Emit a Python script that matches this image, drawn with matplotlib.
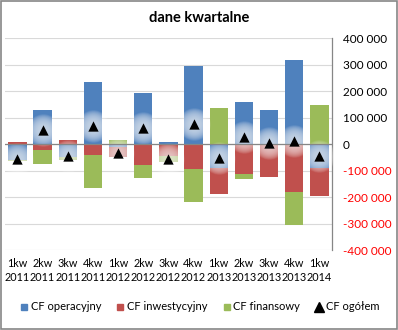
import matplotlib
matplotlib.use("Agg")
import matplotlib.pyplot as plt
from matplotlib.lines import Line2D
from matplotlib.ticker import FuncFormatter
import numpy as np

categories = ["1kw\n2011", "2kw\n2011", "3kw\n2011", "4kw\n2011", "1kw\n2012", "2kw\n2012",
              "3kw\n2012", "4kw\n2012", "1kw\n2013", "2kw\n2013", "3kw\n2013", "4kw\n2013", "1kw\n2014"]
cf_oper = [-60000, 130000, -48000, 233000, -12000, 191000, 9000, 294000, -92000, 157000, 130000, 316000, -92000]
cf_inw = [8000, -21000, 16000, -43000, -38000, -81000, -47000, -94000, -96000, -113000, -126000, -181000, -103000]
cf_fin = [-5000, -56000, -12000, -122000, 16000, -49000, -20000, -124000, 137000, -18000, 0, -124000, 149000]
cf_total = [-57000, 53000, -44000, 68000, -34000, 61000, -57000, 76000, -51000, 26000, 4000, 11000, -46000]
series_names = ["CF operacyjny", "CF inwestycyjny", "CF finansowy", "CF ogółem"]
colors = ["#4F81BD", "#C0504D", "#9BBB59"]

plt.rcParams['font.family'] = ['Lato', 'DejaVu Sans']

fig = plt.figure(figsize=(3.98, 3.30), dpi=100)
ax = fig.add_axes([0.012, 0.2424, 0.822, 0.6424])

x = np.arange(len(categories))
w = 0.73
pos_base = np.zeros(len(x))
neg_base = np.zeros(len(x))
for vals, c in zip([cf_oper, cf_inw, cf_fin], colors):
    v = np.array(vals, dtype=float)
    base = np.where(v >= 0, pos_base, neg_base)
    ax.bar(x, v, w, bottom=base, color=c, zorder=2, linewidth=0)
    pos_base = pos_base + np.where(v >= 0, v, 0)
    neg_base = neg_base + np.where(v < 0, v, 0)

# soft glow around markers
for s in np.linspace(560, 40, 20):
    ax.scatter(x, cf_total, s=s, color="white", alpha=0.055, linewidths=0, zorder=3)
ax.scatter(x, cf_total, marker="^", s=55, color="black", zorder=4, linewidths=0)

ax.set_xlim(-0.5, len(x) - 0.5)
ax.set_ylim(-400000, 400000)
ax.set_yticks(np.arange(-400000, 400001, 100000))
ax.yaxis.set_major_formatter(FuncFormatter(lambda v, p: f"{int(v):,}".replace(",", " ") if v != 0 else "0"))
ax.yaxis.tick_right()
ax.tick_params(axis="y", length=0, labelsize=8.5, pad=8, colors="black")
for lbl, v in zip(ax.get_yticklabels(), ax.get_yticks()):
    if v < 0:
        lbl.set_color("#FF0000")
ax.set_xticks(x)
ax.set_xticklabels(categories, linespacing=1.35)
ax.tick_params(axis="x", length=0, labelsize=7.8, pad=6)
ax.grid(axis="y", color="#D9D9D9", linewidth=0.8, zorder=0)
ax.axhline(0, color="#868686", linewidth=0.9, zorder=3)
for sp in ["top", "left", "bottom"]:
    ax.spines[sp].set_visible(False)
ax.spines["right"].set_color("#868686")
ax.spines["right"].set_linewidth(0.9)

fig.text(0.5, 0.945, "dane kwartalne", ha="center", va="center", fontsize=10.5, fontweight="bold")

handles = [Line2D([], [], marker="s", linestyle="", color=c, markersize=5) for c in colors]
handles.append(Line2D([], [], marker="^", linestyle="", color="black", markersize=7))
fig.legend(handles, series_names, loc="center", bbox_to_anchor=(0.5, 0.07), ncol=4, frameon=False,
           fontsize=8, handletextpad=0.1, columnspacing=1.2, handlelength=1.0)

fig.patches.append(plt.Rectangle((0.002, 0.003), 0.995, 0.994, transform=fig.transFigure,
                                 fill=False, edgecolor="#868686", linewidth=1.2))
fig.savefig("out.png", dpi=100)
